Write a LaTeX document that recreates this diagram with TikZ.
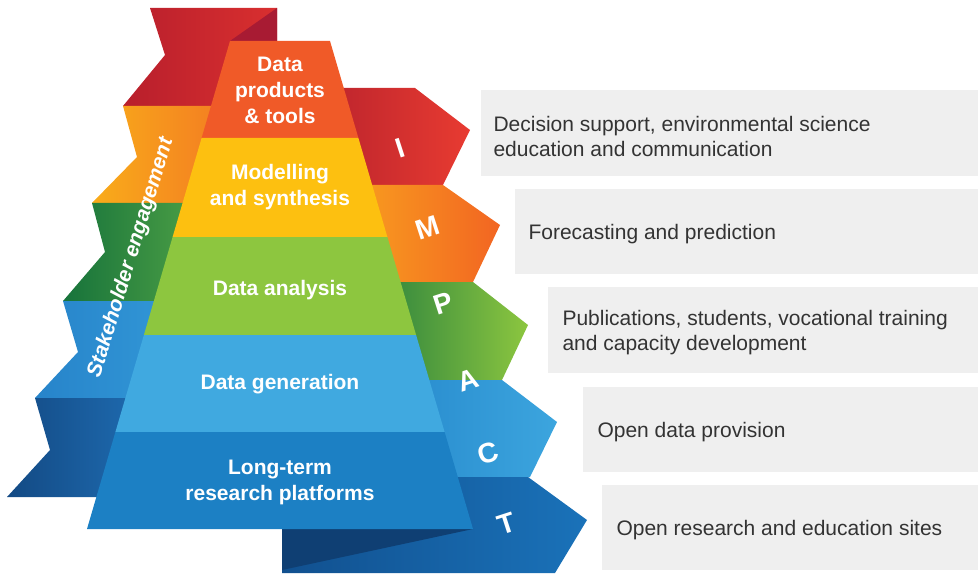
\documentclass[tikz,border=0pt]{standalone}
\usepackage{fontspec}
\setmainfont{Liberation Sans}
\definecolor{prodC}{HTML}{F05A28}
\definecolor{modC}{HTML}{FDC010}
\definecolor{anaC}{HTML}{8DC63F}
\definecolor{genC}{HTML}{40A9E0}
\definecolor{ltC}{HTML}{1C80C4}
\definecolor{boxC}{HTML}{EFEFEF}
\definecolor{txtC}{HTML}{333333}
% left ribbon
\definecolor{rA}{HTML}{B81F2C}\definecolor{rB}{HTML}{D92F2F}\definecolor{rF}{HTML}{A81B33}
\definecolor{oA}{HTML}{F9AC1A}\definecolor{oB}{HTML}{F37B22}
\definecolor{gA}{HTML}{17733B}\definecolor{gB}{HTML}{4C9F45}
\definecolor{bA}{HTML}{2784CA}\definecolor{bB}{HTML}{3196D6}
\definecolor{dA}{HTML}{134A84}\definecolor{dB}{HTML}{1E6AAF}
% impact ribbons
\definecolor{iA}{HTML}{BE252D}\definecolor{iB}{HTML}{E83B31}
\definecolor{mA}{HTML}{F89B1F}\definecolor{mB}{HTML}{F26522}
\definecolor{pA}{HTML}{378A3E}\definecolor{pB}{HTML}{8CC63F}
\definecolor{cA}{HTML}{2B8FD0}\definecolor{cB}{HTML}{3CA5DE}
\definecolor{tA}{HTML}{11508F}\definecolor{tB}{HTML}{1A72B9}\definecolor{tF}{HTML}{0F3F73}
\tikzset{
  layertext/.style={text=white, font=\fontsize{21}{26}\selectfont\bfseries, align=center},
  impacttext/.style={text=white, font=\fontsize{28}{28}\selectfont\bfseries, rotate=18},
  boxtext/.style={text=txtC, font=\fontsize{21}{25}\selectfont, align=left, anchor=west},
  greybox/.style={fill=boxC, draw=none}
}
\begin{document}
\begin{tikzpicture}[x=1pt,y=-1pt]
\useasboundingbox (0,0) rectangle (978,575);
% ---- left ribbon (stakeholder engagement)
\shade[left color=rA, right color=rB] (150,8)--(277,8)--(277,106)--(123,106)--(165,55)--cycle;
\fill[rF] (277,8)--(277,41)--(230,41)--cycle;
\shade[left color=oA, right color=oB] (123,106)--(230,106)--(230,203)--(92,203)--(137,157)--cycle;
\shade[left color=gA, right color=gB] (92,203)--(200,203)--(200,301)--(63,301)--(105,252)--cycle;
\shade[left color=bA, right color=bB] (63,301)--(170,301)--(170,398)--(35,398)--(78,352)--cycle;
\shade[left color=dA, right color=dB] (35,398)--(140,398)--(140,497)--(7,497)--(50,450)--cycle;
% ---- IMPACT ribbons
\shade[left color=iA, right color=iB] (330,88)--(415,88)--(470,130)--(443,185)--(330,185)--cycle;
\shade[left color=mA, right color=mB] (360,185)--(443,185)--(500,225)--(473,282)--(360,282)--cycle;
\shade[left color=pA, right color=pB] (390,282)--(473,282)--(528,325)--(502,380)--(390,380)--cycle;
\shade[left color=cA, right color=cB] (420,380)--(502,380)--(557,422)--(530,477)--(420,477)--cycle;
\shade[left color=tA, right color=tB] (282,529)--(440,529)--(440,477)--(528,477)--(587,520)--(555,573)--(282,573)--cycle;
\fill[tF] (282,529)--(473,529)--(282,570)--cycle;
% ---- pyramid
\fill[prodC] (230,41)--(330,41)--(358.4,138)--(201.6,138)--cycle;
\fill[modC] (201.6,138)--(358.4,138)--(387.4,237)--(172.6,237)--cycle;
\fill[anaC] (172.6,237)--(387.4,237)--(416.1,335)--(143.9,335)--cycle;
\fill[genC] (143.9,335)--(416.1,335)--(444.6,432)--(115.4,432)--cycle;
\fill[ltC] (115.4,432)--(444.6,432)--(473,529)--(87,529)--cycle;
% ---- pyramid texts
\node[layertext] (prod) at (280,90) {Data\\products\\\& tools};
\node[layertext] (mod) at (280,187) {Modelling\\and synthesis};
\node[layertext] (ana) at (280,290) {Data analysis};
\node[layertext] (gen) at (280,384) {Data generation};
\node[layertext] (lt) at (280,482) {Long-term\\research platforms};
% ---- stakeholder text
\node[text=white, font=\fontsize{21}{21}\selectfont\bfseries\itshape, rotate=73] (stake) at (131,258) {Stakeholder engagement};
% ---- IMPACT letters
\node[impacttext] (lI) at (400,148) {I};
\node[impacttext] (lM) at (428,228) {M};
\node[impacttext] (lP) at (443,303) {P};
\node[impacttext] (lA) at (468,380) {A};
\node[impacttext] (lC) at (488,453) {C};
\node[impacttext] (lT) at (507,524) {T};
% ---- grey boxes
\fill[greybox] (481,90) rectangle (978,176);
\fill[greybox] (515,189) rectangle (978,274);
\fill[greybox] (548,287) rectangle (978,373);
\fill[greybox] (583,387) rectangle (978,472);
\fill[greybox] (602,485) rectangle (978,570);
\node[boxtext] (b1) at (490,136) {Decision support, environmental science\\education and communication};
\node[boxtext] (b2) at (525,234) {Forecasting and prediction};
\node[boxtext] (b3) at (559,333) {Publications, students, vocational training\\and capacity development};
\node[boxtext] (b4) at (594,432) {Open data provision};
\node[boxtext] (b5) at (613,530) {Open research and education sites};
\end{tikzpicture}
\end{document}
